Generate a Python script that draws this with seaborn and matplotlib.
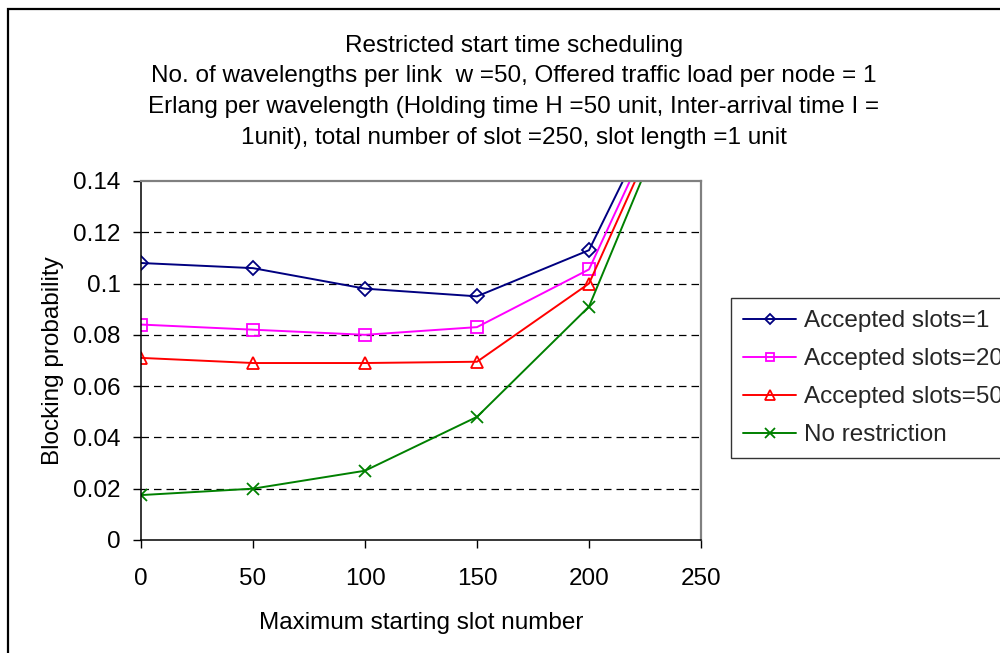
import matplotlib
matplotlib.use("Agg")
import matplotlib.pyplot as plt
from matplotlib.patches import Rectangle
import seaborn as sns
import pandas as pd

# Maximum starting slot number (x) and blocking probability per series
slots = [0, 50, 100, 150, 200, 250]
accepted_1 = [0.108, 0.106, 0.098, 0.095, 0.113, 0.202]
accepted_20 = [0.084, 0.082, 0.080, 0.083, 0.1055, 0.200]
accepted_50 = [0.071, 0.069, 0.069, 0.0695, 0.100, 0.197]
no_restriction = [0.0175, 0.020, 0.027, 0.048, 0.091, 0.196]

series_names = ["Accepted slots=1", "Accepted slots=20", "Accepted slots=50", "No restriction"]
series_values = [accepted_1, accepted_20, accepted_50, no_restriction]
series_colors = ["#000080", "#FF00FF", "#FF0000", "#008000"]
series_markers = ["D", "s", "^", "x"]
series_msize = [7, 8, 9, 9]

x_ticks = [0, 50, 100, 150, 200, 250]
y_ticks = [0, 0.02, 0.04, 0.06, 0.08, 0.10, 0.12, 0.14]
y_tick_labels = ["0", "0.02", "0.04", "0.06", "0.08", "0.1", "0.12", "0.14"]

title_lines = [
    "Restricted start time scheduling",
    "No. of wavelengths per link  w =50, Offered traffic load per node = 1",
    "Erlang per wavelength (Holding time H =50 unit, Inter-arrival time I =",
    "1unit), total number of slot =250, slot length =1 unit",
]

frames = []
for name, vals in zip(series_names, series_values):
    frames.append(pd.DataFrame({"slot": slots, "prob": vals, "series": name}))
df = pd.concat(frames, ignore_index=True)

sns.set_theme(style="white")
plt.rcParams["font.family"] = ["Liberation Sans", "DejaVu Sans"]

FS = 17.5

fig = plt.figure(figsize=(10, 6.53), dpi=100)
fig.patch.set_facecolor("white")
ax = fig.add_axes([0.141, 0.1731, 0.560, 0.5498])

for name, color, marker, ms in zip(series_names, series_colors, series_markers, series_msize):
    sub = df[df["series"] == name]
    sns.lineplot(
        data=sub, x="slot", y="prob", ax=ax, color=color, label=name,
        marker=marker, markersize=ms, markerfacecolor="none",
        markeredgecolor=color, markeredgewidth=1.3, linewidth=1.4,
        legend=False,
    )

ax.set_xlim(0, 250)
ax.set_ylim(0, 0.14)
ax.set_xticks(x_ticks)
ax.set_xticklabels([str(v) for v in x_ticks])
ax.set_yticks(y_ticks)
ax.set_yticklabels(y_tick_labels)

# dashed horizontal gridlines
for y in y_ticks[1:-1]:
    ax.axhline(y, color="black", linewidth=0.9, linestyle=(0, (6, 4)), zorder=0.5)

ax.tick_params(axis="both", direction="out", length=6, width=1, color="black",
               labelsize=FS, labelcolor="black")
ax.tick_params(axis="y", left=True, pad=8.5)
ax.tick_params(axis="x", bottom=True, pad=14)

for side in ["left", "bottom"]:
    ax.spines[side].set_color("black")
    ax.spines[side].set_linewidth(1.1)
for side in ["top", "right"]:
    ax.spines[side].set_visible(True)
    ax.spines[side].set_color("#808080")
    ax.spines[side].set_linewidth(1.6)

ax.set_xlabel("Maximum starting slot number", fontsize=FS, color="black", labelpad=16)
ax.set_ylabel("Blocking probability", fontsize=FS, color="black", labelpad=7)

# multi-line chart title
title_y = [1 - 46 / 653, 1 - 76 / 653, 1 - 107 / 653, 1 - 138 / 653]
for line, yy in zip(title_lines, title_y):
    fig.text(0.514, yy, line, ha="center", va="center", fontsize=FS, color="black")

handles, labels = ax.get_legend_handles_labels()
leg = fig.legend(handles, labels, loc="upper left",
                 bbox_to_anchor=(0.7307, 1 - 298 / 653),
                 bbox_transform=fig.transFigure, frameon=True, fancybox=False,
                 edgecolor="black", fontsize=FS, handlelength=2.2,
                 handletextpad=0.3, labelspacing=0.66, borderpad=0.5,
                 borderaxespad=0.0, markerscale=0.75)
leg.get_frame().set_linewidth(1.0)

# outer chart border
fig.patches.append(Rectangle((0.0083, -0.1), 1.2, 1.1 - 9 / 653,
                             transform=fig.transFigure, fill=False,
                             edgecolor="black", linewidth=1.6))

fig.savefig("out.png", dpi=100)
